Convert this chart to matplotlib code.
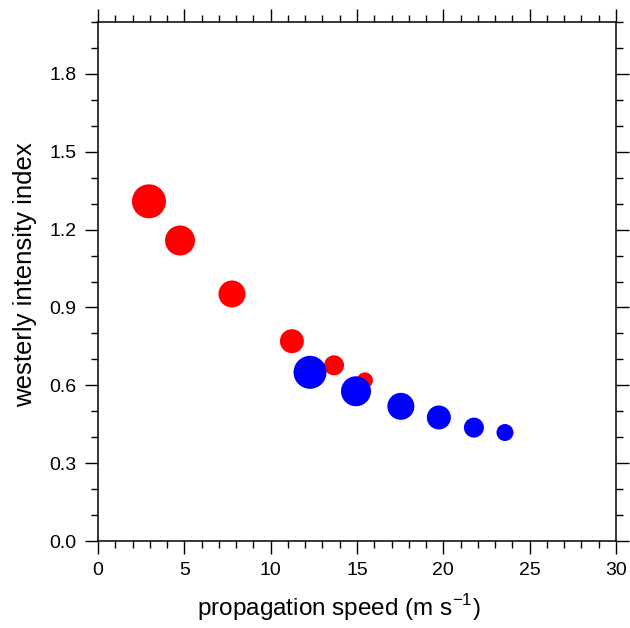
import matplotlib
matplotlib.use("Agg")
import matplotlib.pyplot as plt
from matplotlib.ticker import MultipleLocator

plt.rcParams['font.family'] = ['Liberation Sans', 'DejaVu Sans']
plt.rcParams['mathtext.fontset'] = 'custom'
plt.rcParams['mathtext.rm'] = 'Liberation Sans'

# Red series
red_x = [2.95, 4.75, 7.76, 11.23, 13.67, 15.46]
red_y = [1.309, 1.158, 0.952, 0.770, 0.677, 0.619]
red_d = [34, 30, 27, 24, 20, 16]   # marker diameter (px)

# Blue series
blue_x = [12.28, 14.94, 17.54, 19.74, 21.77, 23.57]
blue_y = [0.650, 0.577, 0.519, 0.476, 0.437, 0.418]
blue_d = [33, 30, 27, 24, 20, 17]

xticks = [0, 5, 10, 15, 20, 25, 30]
yticks = [0.0, 0.3, 0.6, 0.9, 1.2, 1.5, 1.8]

dpi = 100
fig = plt.figure(figsize=(6.30, 6.28), dpi=dpi)
ax = fig.add_axes([98/630, (628-541)/628, (616-98)/630, (541-22)/628])

def sz(d):
    pt = d * 72.0 / dpi
    return pt ** 2

ax.scatter(red_x, red_y, s=[sz(d) for d in red_d], c='#ff0000', linewidths=0, zorder=3)
ax.scatter(blue_x, blue_y, s=[sz(d) for d in blue_d], c='#0000ff', linewidths=0, zorder=4)

ax.set_xlim(0, 30)
ax.set_ylim(0, 2.0)
ax.set_xticks(xticks)
ax.set_yticks(yticks)
ax.set_xticklabels([str(v) for v in xticks])
ax.set_yticklabels([f"{v:.1f}" for v in yticks])
ax.xaxis.set_minor_locator(MultipleLocator(1))
ax.yaxis.set_minor_locator(MultipleLocator(0.1))

for s in ax.spines.values():
    s.set_linewidth(1.1)

ax.tick_params(which='major', direction='out', length=9.4, width=1.0,
               labelsize=14, pad=6, top=True, right=True)
ax.tick_params(which='minor', direction='out', length=5, width=1.0,
               top=True, right=True)

ax.set_xlabel('propagation speed (m s$^{\\mathregular{-1}}$)', fontsize=17.5, labelpad=9)
ax.set_ylabel('westerly intensity index', fontsize=18.5, labelpad=9)
ax.xaxis.label.set_x(0.465)
ax.yaxis.label.set_y(0.514)

fig.savefig('out.png', dpi=dpi)
